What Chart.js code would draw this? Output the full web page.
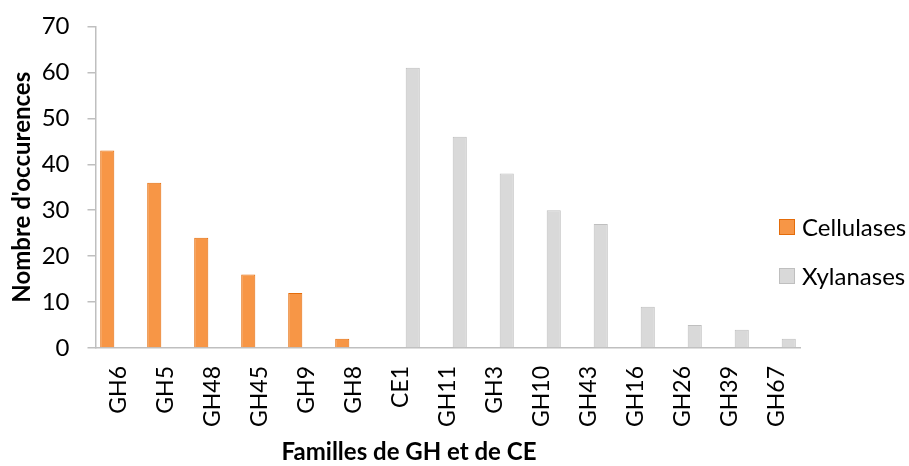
<!DOCTYPE html>
<html>
<head>
<meta charset="utf-8">
<script src="https://cdn.jsdelivr.net/npm/chart.js@4.4.1/dist/chart.umd.min.js"></script>
<style>
html,body{margin:0;padding:0;background:#fff;}
#wrap{width:909px;height:466px;position:relative;}
</style>
</head>
<body>
<div id="wrap"><canvas id="c" width="909" height="466"></canvas></div>
<script>
const categories = ["GH6","GH5","GH48","GH45","GH9","GH8","CE1","GH11","GH3","GH10","GH43","GH16","GH26","GH39","GH67"];
const cellulases = [43,36,24,16,12,2,null,null,null,null,null,null,null,null,null];
const xylanases = [null,null,null,null,null,null,61,46,38,30,27,9,5,4,2];
const yTicks = [0,10,20,30,40,50,60,70];
const seriesNames = ["Cellulases","Xylanases"];
const xTitle = "Familles de GH et de CE";
const yTitle = "Nombre d'occurences";

const FONT = "Lato, 'Open Sans', sans-serif";
const colors = [
  {fill:"#F79646", border:"#E46C0A"},
  {fill:"#D9D9D9", border:"#BFBFBF"}
];

const customDraw = {
  id: 'customDraw',
  afterDraw(chart) {
    const ctx = chart.ctx;
    ctx.save();
    // x title
    ctx.font = "bold 24px " + FONT;
    ctx.fillStyle = "#000";
    ctx.textAlign = "center";
    ctx.textBaseline = "middle";
    ctx.fillText(xTitle, 409, 452);
    // legend
    ctx.font = "24px " + FONT;
    ctx.textAlign = "left";
    const ys = [227, 276];
    chart.data.datasets.forEach((ds, i) => {
      ctx.fillStyle = ds.backgroundColor;
      ctx.strokeStyle = ds.borderColor;
      ctx.lineWidth = 1;
      ctx.fillRect(779.5, ys[i] - 7.5, 15, 15);
      ctx.strokeRect(779.5, ys[i] - 7.5, 15, 15);
      ctx.fillStyle = "#000";
      ctx.fillText(ds.label, 802, ys[i] + 1);
    });
    ctx.restore();
  }
};

new Chart(document.getElementById('c'), {
  type: 'bar',
  data: {
    labels: categories,
    datasets: [
      {label: seriesNames[0], data: cellulases, backgroundColor: colors[0].fill, borderColor: colors[0].border, borderWidth: 1},
      {label: seriesNames[1], data: xylanases, backgroundColor: colors[1].fill, borderColor: colors[1].border, borderWidth: 1}
    ]
  },
  options: {
    responsive: false,
    animation: false,
    layout: {padding: {top: 26.5, right: 108.5, left: 0, bottom: 0}},
    datasets: {bar: {categoryPercentage: 1.0, barPercentage: 0.6}},
    plugins: {legend: {display: false}, tooltip: {enabled: false}},
    scales: {
      x: {
        grid: {display: false, drawTicks: false},
        border: {display: true, color: "#BFBFBF", width: 1.5},
        ticks: {color: "#000", font: {family: FONT, size: 23}, minRotation: 90, maxRotation: 90, padding: 18, autoSkip: false},
        afterFit(scale) { scale.height = 118; }
      },
      y: {
        min: 0, max: 70,
        afterBuildTicks(scale) { scale.ticks = yTicks.map(v => ({value: v})); },
        grid: {display: true, drawOnChartArea: false, drawTicks: true, tickLength: 8, color: "#BFBFBF", lineWidth: 1.5},
        border: {display: true, color: "#BFBFBF", width: 1.5},
        ticks: {color: "#000", font: {family: FONT, size: 24}, padding: 18},
        title: {display: true, text: yTitle, color: "#000", font: {family: FONT, size: 24, weight: 'bold'}, padding: {top: 8, bottom: 0}},
        afterFit(scale) { scale.width = 95.5; scale.paddingTop = 0; scale.paddingBottom = 0; }
      }
    }
  },
  plugins: [customDraw]
});
</script>
</body>
</html>
